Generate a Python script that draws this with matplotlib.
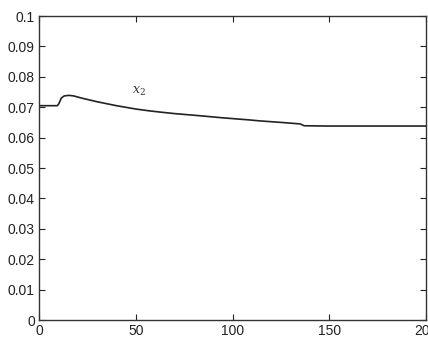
import matplotlib
matplotlib.use("Agg")
import matplotlib.pyplot as plt

t = [0, 9.5, 10.3, 11.5, 13, 15.5, 18, 22, 30, 40, 50, 57, 62.5, 70, 83, 95, 109, 114, 125, 135, 137, 150, 175, 200]
x2 = [0.0705, 0.0705, 0.0712, 0.0730, 0.0737, 0.0739, 0.0737, 0.0730, 0.0718, 0.0705, 0.0694, 0.0688, 0.0684, 0.0679, 0.0672, 0.0665, 0.0658, 0.0655, 0.0650, 0.0645, 0.0639, 0.0638, 0.0638, 0.0638]

xticks = [0, 50, 100, 150, 200]
yticks = [0, 0.01, 0.02, 0.03, 0.04, 0.05, 0.06, 0.07, 0.08, 0.09, 0.1]
yticklabels = ["0", "0.01", "0.02", "0.03", "0.04", "0.05", "0.06", "0.07", "0.08", "0.09", "0.1"]

plt.rcParams['font.family'] = ['Liberation Sans', 'DejaVu Sans']
fig = plt.figure(figsize=(4.28, 3.37), dpi=100)
ax = fig.add_axes([39/428, 17/337, 387/428, 304/337])
ax.plot(t, x2, color='#222222', lw=1.2)
ax.set_xlim(0, 200)
ax.set_ylim(0, 0.1)
ax.set_xticks(xticks)
ax.set_yticks(yticks)
ax.set_yticklabels(yticklabels)
ax.tick_params(direction='in', length=4, top=True, right=True, labelsize=10, colors='#222222', pad=3)
for s in ax.spines.values():
    s.set_color('#333333')
    s.set_linewidth(1.0)
ax.text(51.5, 0.0752, r'$x_2$', fontsize=9, ha='center', va='center', color='#333333',
        math_fontfamily='dejavuserif')
fig.savefig('out.png', dpi=100)
